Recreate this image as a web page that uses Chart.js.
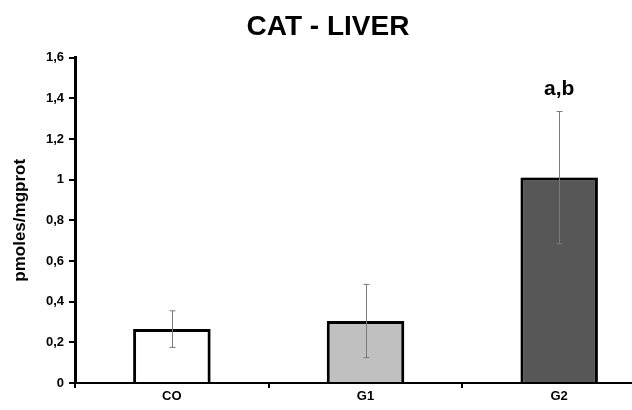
<!DOCTYPE html>
<html>
<head>
<meta charset="utf-8">
<script src="https://cdn.jsdelivr.net/npm/chart.js@4.4.1/dist/chart.umd.min.js"></script>
<style>
    html, body { margin: 0; padding: 0; background: #fff; overflow: hidden; }
    #wrap { width: 660px; height: 410px; }
</style>
</head>
<body>
<div id="wrap"><canvas id="catChart"></canvas></div>
<script>
// Данные графика
const groups = ["CO", "G1", "G2"];
const means = [0.265, 0.305, 1.01];
const errors = [0.09, 0.18, 0.325];
const marks = ["", "", "a,b"];
const barColors = ["#ffffff", "#c0c0c0", "#575757"];
const yTicks = [0, 0.2, 0.4, 0.6, 0.8, 1, 1.2, 1.4, 1.6];

const FONT = "'Liberation Sans', Arial, sans-serif";

// Лёгкая тень под столбцами
const barShadowPlugin = {
    id: "barShadow",
    beforeDatasetsDraw(chart) {
        const ctx = chart.ctx;
        ctx.save();
        ctx.shadowColor = "rgba(0, 0, 0, 0.22)";
        ctx.shadowOffsetX = 2;
        ctx.shadowOffsetY = -1;
        ctx.shadowBlur = 2;
    },
    afterDatasetsDraw(chart) {
        chart.ctx.restore();
    }
};

// Планки погрешностей и буквы над столбцами
const errorBarsPlugin = {
    id: "errorBars",
    afterDatasetsDraw(chart) {
        const ctx = chart.ctx;
        const meta = chart.getDatasetMeta(0);
        const y = chart.scales.y;
        ctx.save();
        ctx.shadowColor = "transparent";
        ctx.strokeStyle = "#7a7a7a";
        ctx.lineWidth = 1;
        meta.data.forEach((bar, i) => {
            const x = Math.round(bar.x) + 0.5;
            const top = y.getPixelForValue(means[i] + errors[i]);
            const bot = y.getPixelForValue(means[i] - errors[i]);
            ctx.beginPath();
            ctx.moveTo(x, top);
            ctx.lineTo(x, bot);
            ctx.moveTo(x - 3, top);
            ctx.lineTo(x + 3, top);
            ctx.moveTo(x - 3, bot);
            ctx.lineTo(x + 3, bot);
            ctx.stroke();
            if (marks[i]) {
                ctx.fillStyle = "#000";
                ctx.font = "bold 21px " + FONT;
                ctx.textAlign = "center";
                ctx.textBaseline = "bottom";
                ctx.fillText(marks[i], bar.x, top - 12);
            }
        });
        ctx.restore();
    }
};

new Chart(document.getElementById("catChart"), {
    type: "bar",
    data: {
        labels: groups,
        datasets: [{
            data: means,
            backgroundColor: barColors,
            borderColor: "#000",
            borderWidth: 3,
            barPercentage: 0.4,
            categoryPercentage: 1
        }]
    },
    options: {
        responsive: true,
        maintainAspectRatio: false,
        animation: false,
        layout: { padding: { left: 0, right: 4, top: 0, bottom: 0 } },
        plugins: {
            legend: { display: false },
            tooltip: { enabled: false },
            title: {
                display: true,
                text: "CAT - LIVER",
                color: "#000",
                font: { family: FONT, size: 28, weight: "bold" },
                padding: { top: 10, bottom: 14 }
            }
        },
        scales: {
            x: {
                grid: { display: true, drawOnChartArea: false, drawTicks: true, tickLength: 5, color: "#000", lineWidth: 2, offset: true },
                border: { display: true, color: "#000", width: 2 },
                ticks: { color: "#000", padding: 1, font: { family: FONT, size: 13, weight: "bold" } },
                afterFit(scale) { scale.height = 27; }
            },
            y: {
                min: 0,
                max: 1.6,
                afterBuildTicks(scale) { scale.ticks = yTicks.map(v => ({ value: v })); },
                grid: { display: true, drawOnChartArea: false, drawTicks: true, tickLength: 6, color: "#000", lineWidth: 2 },
                border: { display: true, color: "#000", width: 3 },
                ticks: {
                    color: "#000",
                    padding: 5,
                    font: { family: FONT, size: 13, weight: "bold" },
                    callback: v => String(Math.round(v * 10) / 10).replace(".", ",")
                },
                title: {
                    display: true,
                    text: "pmoles/mgprot",
                    color: "#000",
                    padding: { top: 10, bottom: 4 },
                    font: { family: FONT, size: 17, weight: "bold" }
                },
                afterFit(scale) { scale.width = 75; }
            }
        }
    },
    plugins: [barShadowPlugin, errorBarsPlugin]
});
</script>
</body>
</html>
